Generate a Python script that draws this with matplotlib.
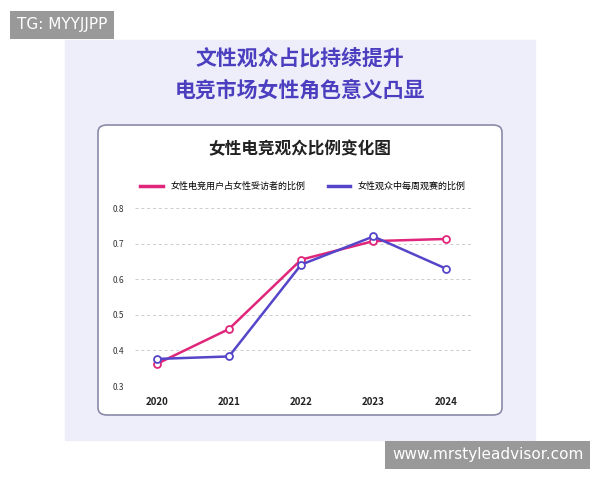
import matplotlib.pyplot as plt
from matplotlib.patches import FancyBboxPatch, Rectangle

plt.rcParams['font.family'] = ['Noto Sans CJK SC', 'DejaVu Sans']

years = [2020, 2021, 2022, 2023, 2024]
female_users = [0.362, 0.460, 0.655, 0.707, 0.713]
weekly_viewers = [0.376, 0.383, 0.641, 0.720, 0.630]
series_names = ['女性电竞用户占女性受访者的比例', '女性观众中每周观赛的比例']
yticks = [0.3, 0.4, 0.5, 0.6, 0.7, 0.8]

pink = '#e0267a'
blue = '#5546c9'

fig = plt.figure(figsize=(6, 4.8), dpi=100)
W, H = 600, 480

def fx(x):
    return x / W

def fy(y):
    return 1 - y / H

# lavender panel
fig.patches.append(Rectangle((fx(65), fy(440)), fx(535) - fx(65), fy(40) - fy(440),
                             transform=fig.transFigure, color='#eeeefa', zorder=0))
# white card
fig.patches.append(FancyBboxPatch((fx(98), fy(415)), fx(502) - fx(98), fy(125) - fy(415),
                                  boxstyle='round,pad=0,rounding_size=0.015',
                                  transform=fig.transFigure, facecolor='white',
                                  edgecolor='#8a8aa8', linewidth=1.2, zorder=1))

fig.text(0.5, fy(58), '文性观众占比持续提升', ha='center', va='center', fontsize=15,
         fontweight='bold', color='#4b3fc0')
fig.text(0.5, fy(90), '电竞市场女性角色意义凸显', ha='center', va='center', fontsize=15,
         fontweight='bold', color='#4b3fc0')
fig.text(0.5, fy(149), '女性电竞观众比例变化图', ha='center', va='center', fontsize=12,
         fontweight='bold', color='#222222')

ax = fig.add_axes([fx(135), fy(386), fx(471) - fx(135), fy(208) - fy(386)], zorder=2)
ax.set_facecolor('none')
ax.plot(years, female_users, color=pink, lw=1.8, marker='o', ms=5,
        mfc='white', mec=pink, mew=1.3, label=series_names[0])
ax.plot(years, weekly_viewers, color=blue, lw=1.8, marker='o', ms=5,
        mfc='white', mec=blue, mew=1.3, label=series_names[1])
ax.set_xlim(2019.7, 2024.35)
ax.set_ylim(0.3, 0.8)
ax.set_xticks(years)
ax.set_xticklabels([str(y) for y in years], fontsize=7, fontweight='bold', color='#222222')
ax.set_yticks(yticks)
ax.set_yticklabels([f'{v:.1f}' for v in yticks], fontsize=6, color='#333333')
ax.tick_params(length=0, pad=8)
ax.grid(axis='y', color='#cccccc', ls=(0, (3, 3)), lw=0.7)
for s in ax.spines.values():
    s.set_visible(False)

ax.legend(loc='lower center', bbox_to_anchor=(0.5, 1.05), ncol=2, frameon=False,
          fontsize=6.5, handlelength=2.5, columnspacing=2.5)
for line in ax.get_legend().get_lines():
    line.set_marker('')
    line.set_linewidth(2.5)

fig.text(fx(17), fy(25), 'TG: MYYJJPP', fontsize=11, color='white', va='center',
         family='DejaVu Sans',
         bbox=dict(boxstyle='square,pad=0.45', fc='#999999', ec='none'))
fig.text(fx(392), fy(455), 'www.mrstyleadvisor.com', fontsize=11, color='white', va='center',
         family='DejaVu Sans',
         bbox=dict(boxstyle='square,pad=0.45', fc='#999999', ec='none'))

fig.savefig('out.png', dpi=100, facecolor='white')
